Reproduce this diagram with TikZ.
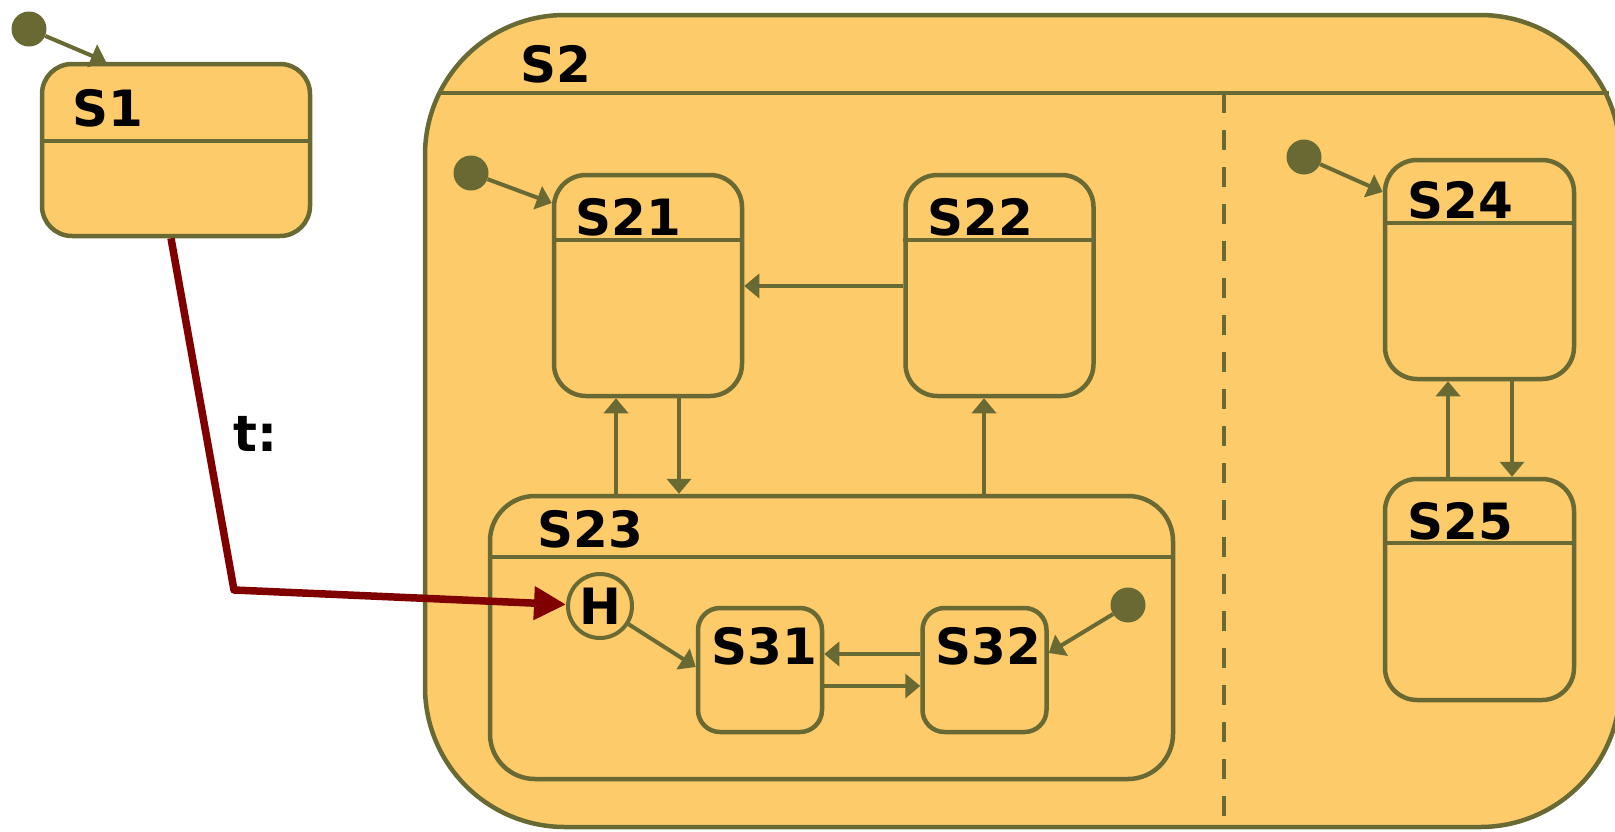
\documentclass[tikz,border=0pt]{standalone}
\usepackage{fontspec}
\setmainfont{DejaVu Sans}
\usetikzlibrary{arrows.meta}
\definecolor{statefill}{RGB}{253,203,106}
\definecolor{stateline}{RGB}{105,105,52}
\definecolor{trigger}{RGB}{128,0,0}

\begin{document}
\begin{tikzpicture}[x=1pt, y=-1pt,
  st/.style={draw=stateline, fill=statefill, line width=4.5pt, rounded corners=#1, inner sep=0pt},
  st/.default=30pt,
  hdr/.style={draw=stateline, line width=4pt},
  region/.style={draw=stateline, line width=4.5pt, dash pattern=on 20pt off 17pt},
  init/.style={circle, fill=stateline, inner sep=0pt, minimum size=35pt},
  hist/.style={circle, draw=stateline, line width=4pt, inner sep=0pt, minimum size=64pt,
    font=\bfseries\fontsize{50}{60}\selectfont},
  lbl/.style={font=\bfseries\fontsize{50}{60}\selectfont, inner sep=0pt, anchor=base west},
  tr/.style={draw=stateline, line width=4pt, -{Triangle[length=15pt,width=24pt]}},
  trig/.style={draw=trigger, line width=7.5pt, line join=round, -{Triangle[length=32pt,width=32pt]}}]
  \useasboundingbox (0,0) rectangle (1615,831);
  \clip (0,0) rectangle (1615,831);
  % states
  \node[st, minimum width=268pt, minimum height=172pt] (s1) at (176,150) {};
  \node[st=140pt, minimum width=1195pt, minimum height=812pt] (s2) at (1022.5,421) {};
  \node[st=32pt, minimum width=188pt, minimum height=221pt] (s21) at (648,285.5) {};
  \node[st=32pt, minimum width=188pt, minimum height=221pt] (s22) at (999.5,285.5) {};
  \node[st=45pt, minimum width=683pt, minimum height=283pt] (s23) at (831.5,637.5) {};
  \node[st=32pt, minimum width=189pt, minimum height=219pt] (s24) at (1479.5,269.5) {};
  \node[st=32pt, minimum width=189pt, minimum height=221pt] (s25) at (1479.5,589.5) {};
  \node[st=22pt, minimum width=124pt, minimum height=124pt] (s31) at (760,670) {};
  \node[st=22pt, minimum width=124pt, minimum height=124pt] (s32) at (984.5,670) {};
  % headers
  \draw[hdr] (s1.west |- 0,141) -- (s1.east |- 0,141);
  \draw[hdr] (440,93) -- (1609,93);
  \draw[region] (1224,93) -- (s2.south -| 1224,0);
  \draw[hdr] (s21.west |- 0,240) -- (s21.east |- 0,240);
  \draw[hdr] (s22.west |- 0,240) -- (s22.east |- 0,240);
  \draw[hdr] (s23.west |- 0,557) -- (s23.east |- 0,557);
  \draw[hdr] (s24.west |- 0,223) -- (s24.east |- 0,223);
  \draw[hdr] (s25.west |- 0,543) -- (s25.east |- 0,543);
  % names
  \node[lbl] (s1name) at (72,126) {S1};
  \node[lbl] (s2name) at (520,82) {S2};
  \node[lbl] (s21name) at (575,235) {S21};
  \node[lbl] (s22name) at (927,235) {S22};
  \node[lbl] (s23name) at (537,547) {S23};
  \node[lbl] (s24name) at (1407,218) {S24};
  \node[lbl] (s25name) at (1407,539) {S25};
  \node[lbl] (s31name) at (711,664) {S31};
  \node[lbl] (s32name) at (935,664) {S32};
  \node[hist] (h) at (600,606) {H};
  % initial states
  \node[init] (i1) at (29,29) {};
  \node[init] (i21) at (471,173) {};
  \node[init] (i24) at (1304,157) {};
  \node[init] (i32) at (1128,605) {};
  \draw[tr] (i1) -- (s1.north -| 106,0);
  \draw[tr] (i21) -- (s21.west |- 0,203);
  \draw[tr] (i24) -- (s24.west |- 0,192);
  \draw[tr] (i32) -- (s32.east |- 0,653);
  % transitions
  \draw[tr] (s22.west |- 0,286) -- (s21.east |- 0,286);
  \draw[tr] (s23.north -| 616,0) -- (s21.south -| 616,0);
  \draw[tr] (s21.south -| 679,0) -- (s23.north -| 679,0);
  \draw[tr] (s23.north -| 984,0) -- (s22.south -| 984,0);
  \draw[tr] (s25.north -| 1448,0) -- (s24.south -| 1448,0);
  \draw[tr] (s24.south -| 1512,0) -- (s25.north -| 1512,0);
  \draw[tr] (h) -- (s31.west |- 0,667);
  \draw[tr] (s32.west |- 0,654) -- (s31.east |- 0,654);
  \draw[tr] (s31.east |- 0,686) -- (s32.west |- 0,686);
  % trigger
  \coordinate (bend) at (234,590);
  \draw[trig] (s1.south -| 171,0) -- (bend) -- (h);
  \node[lbl] (tname) at (233,451) {t:};
\end{tikzpicture}
\end{document}
